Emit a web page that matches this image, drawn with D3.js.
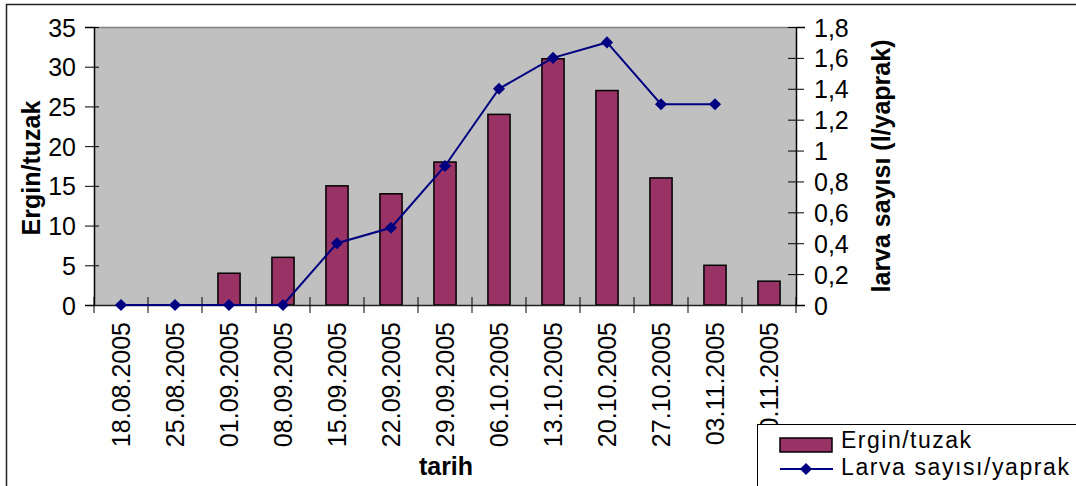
<!DOCTYPE html>
<html>
<head>
<meta charset="utf-8">
<script src="https://cdn.jsdelivr.net/npm/d3@7"></script>
<style>
  html, body { margin: 0; padding: 0; background: #fff; }
  svg { display: block; }
  text { font-family: "Liberation Sans", Arial, sans-serif; fill: #000; }
</style>
</head>
<body>
<svg id="chart" width="1076" height="486"></svg>
<script>
// ---- data ----
const categories = ["18.08.2005","25.08.2005","01.09.2005","08.09.2005","15.09.2005","22.09.2005","29.09.2005","06.10.2005","13.10.2005","20.10.2005","27.10.2005","03.11.2005","10.11.2005"];
const erginValues = [0, 0, 4, 6, 15, 14, 18, 24, 31, 27, 16, 5, 3];
const larvaValues = [0, 0, 0, 0, 0.4, 0.5, 0.9, 1.4, 1.6, 1.7, 1.3, 1.3, null];
const leftTicks = [0, 5, 10, 15, 20, 25, 30, 35];
const rightTicks = [0, 0.2, 0.4, 0.6, 0.8, 1, 1.2, 1.4, 1.6, 1.8];
const rightTickLabels = ["0", "0,2", "0,4", "0,6", "0,8", "1", "1,2", "1,4", "1,6", "1,8"];
const seriesNames = ["Ergin/tuzak", "Larva sayısı/yaprak"];

// ---- layout ----
const plot = { left: 94, right: 796, top: 27, bottom: 305 };
const barColor = "#993366", lineColor = "#000080";
const fs = 25;
const legendFs = 23;

const svg = d3.select("#chart");

// outer frame
svg.append("path").attr("d", "M6.5,486 V4.5 H1076").attr("fill", "none").attr("stroke", "#222").attr("stroke-width", 1.5);

const x = d3.scaleBand().domain(categories).range([plot.left, plot.right]);
const yL = d3.scaleLinear().domain([0, 35]).range([plot.bottom, plot.top]);
const yR = d3.scaleLinear().domain([0, 1.8]).range([plot.bottom, plot.top]);

// plot background
svg.append("rect").attr("x", plot.left).attr("y", plot.top)
  .attr("width", plot.right - plot.left).attr("height", plot.bottom - plot.top)
  .attr("fill", "#c0c0c0");
svg.append("line").attr("x1", plot.left).attr("x2", plot.right).attr("y1", plot.top + 0.5).attr("y2", plot.top + 0.5)
  .attr("stroke", "#808080").attr("stroke-width", 1.5);

// bars
const bw = x.bandwidth() * 0.41;
svg.append("g").selectAll("rect").data(erginValues).join("rect")
  .attr("x", (d, i) => x(categories[i]) + x.bandwidth() / 2 - bw / 2)
  .attr("y", d => yL(d))
  .attr("width", bw)
  .attr("height", d => yL(0) - yL(d))
  .attr("fill", barColor).attr("stroke", "#000").attr("stroke-width", 1.5)
  .style("display", d => d > 0 ? null : "none");

// left axis
const gL = svg.append("g").attr("transform", `translate(${plot.left},0)`)
  .call(d3.axisLeft(yL).tickValues(leftTicks).tickSizeOuter(0).tickSize(9).tickPadding(9));
gL.select(".domain").attr("stroke", "#000").attr("stroke-width", 1.5);
gL.selectAll(".tick line").attr("x1", 5).attr("x2", -9).attr("stroke", "#000");
gL.selectAll(".tick text").attr("font-size", fs).attr("font-family", "Liberation Sans, Arial, sans-serif").attr("fill", "#000").attr("dy", "0.36em");

// right axis
const gR = svg.append("g").attr("transform", `translate(${plot.right},0)`)
  .call(d3.axisRight(yR).tickValues(rightTicks).tickFormat((d, i) => rightTickLabels[i]).tickSizeOuter(0).tickSize(9).tickPadding(9));
gR.select(".domain").attr("stroke", "#000").attr("stroke-width", 1.5);
gR.selectAll(".tick line").attr("x1", -8).attr("x2", 8).attr("stroke", "#000");
gR.selectAll(".tick text").attr("font-size", fs).attr("font-family", "Liberation Sans, Arial, sans-serif").attr("fill", "#000").attr("dy", "0.36em");

// bottom axis
const gB = svg.append("g").attr("transform", `translate(0,${plot.bottom})`)
  .call(d3.axisBottom(x).tickSize(0).tickSizeOuter(0).tickFormat(""));
gB.select(".domain").attr("stroke", "#222").attr("stroke-width", 1.5);
gB.selectAll(".tick").remove();
const bounds = categories.map(c => x(c)).concat([plot.right]);
gB.selectAll("line.b").data(bounds).join("line").attr("class", "b")
  .attr("x1", d => d).attr("x2", d => d).attr("y1", -8).attr("y2", 8).attr("stroke", "#000");
gB.selectAll("text.cat").data(categories).join("text").attr("class", "cat")
  .attr("transform", d => `translate(${x(d) + x.bandwidth() / 2},17) rotate(-90)`)
  .attr("text-anchor", "end").attr("dy", "0.36em").attr("font-size", fs)
  .text(d => d);

// line series
const pts = larvaValues.map((v, i) => ({ c: categories[i], v }));
svg.append("path").datum(pts)
  .attr("d", d3.line().defined(d => d.v != null).x(d => x(d.c) + x.bandwidth() / 2).y(d => yR(d.v)))
  .attr("fill", "none").attr("stroke", lineColor).attr("stroke-width", 2);
const diamond = d3.symbol(d3.symbolSquare, 74);
svg.append("g").selectAll("path").data(pts.filter(d => d.v != null)).join("path")
  .attr("d", diamond)
  .attr("transform", d => `translate(${x(d.c) + x.bandwidth() / 2},${yR(d.v)}) rotate(45)`)
  .attr("fill", lineColor);

// axis titles
svg.append("text").attr("transform", `translate(31,${(plot.top + plot.bottom) / 2 + 2}) rotate(-90)`)
  .attr("text-anchor", "middle").attr("dy", "0.36em").attr("font-size", fs).attr("font-weight", "bold")
  .text("Ergin/tuzak");
svg.append("text").attr("transform", `translate(881,${(plot.top + plot.bottom) / 2}) rotate(-90)`)
  .attr("text-anchor", "middle").attr("dy", "0.36em").attr("font-size", fs).attr("font-weight", "bold")
  .text("larva sayısı (l/yaprak)");
svg.append("text").attr("x", 446).attr("y", 475).attr("text-anchor", "middle")
  .attr("font-size", fs).attr("font-weight", "bold").text("tarih");

// legend
const lg = svg.append("g");
lg.append("rect").attr("x", 757.5).attr("y", 424.5).attr("width", 340).attr("height", 80)
  .attr("fill", "#fff").attr("stroke", "#000").attr("stroke-width", 1);
lg.append("rect").attr("x", 780).attr("y", 438).attr("width", 52).attr("height", 14)
  .attr("fill", barColor).attr("stroke", "#000").attr("stroke-width", 1.5);
lg.append("text").attr("x", 841).attr("y", 440).attr("dy", "0.36em").attr("font-size", legendFs)
  .attr("textLength", 130).attr("lengthAdjust", "spacing").text(seriesNames[0]);
lg.append("line").attr("x1", 780).attr("x2", 833).attr("y1", 469).attr("y2", 469)
  .attr("stroke", lineColor).attr("stroke-width", 2);
lg.append("path").attr("d", diamond).attr("transform", "translate(806,469) rotate(45)").attr("fill", lineColor);
lg.append("text").attr("x", 841).attr("y", 467).attr("dy", "0.36em").attr("font-size", legendFs)
  .attr("textLength", 228).attr("lengthAdjust", "spacing").text(seriesNames[1]);
</script>
</body>
</html>
